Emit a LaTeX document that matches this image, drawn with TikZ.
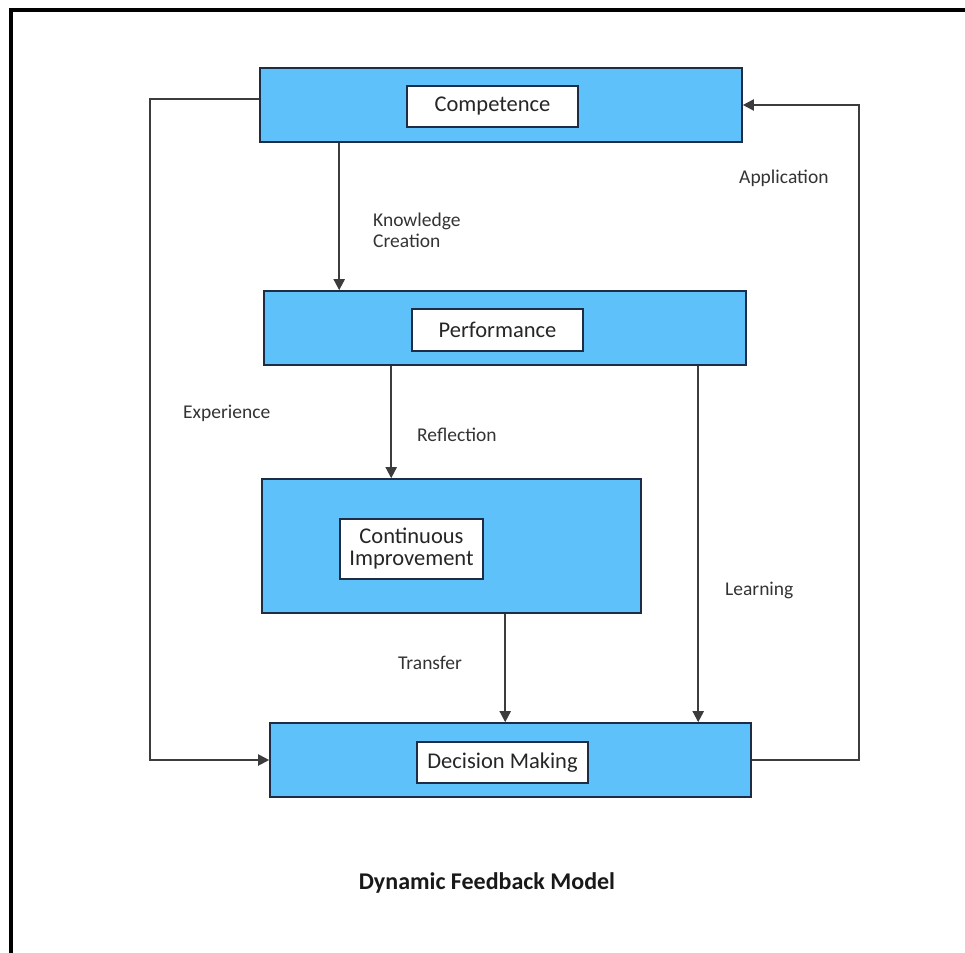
\documentclass[tikz,border=0pt]{standalone}
\usepackage{fontspec}
\setmainfont{Carlito}
\usepackage{xcolor}
\usepackage{tikz}
\usetikzlibrary{arrows.meta}

\definecolor{boxblue}{RGB}{94,193,250}
\definecolor{boxline}{RGB}{30,45,70}
\definecolor{wire}{RGB}{60,60,60}

\begin{document}
\begin{tikzpicture}[x=1pt,y=-1pt,
  stage/.style={shape=rectangle,draw=boxline,fill=boxblue,line width=1.6pt,inner sep=0pt},
  tag/.style={shape=rectangle,draw=boxline,fill=white,line width=1.4pt,inner sep=0pt,align=center,font=\fontsize{22.5}{26}\selectfont,text=black!85},
  flow/.style={draw=wire,line width=2pt,-{Triangle[length=11pt,width=11pt]}},
  note/.style={anchor=west,inner sep=0pt,align=left,font=\fontsize{19.5}{21}\selectfont,text=black!80}]
\useasboundingbox (0,0) rectangle (965,952);

\draw[line width=4pt,line cap=rect] (11,952) -- (11,10) -- (965,10);

\node[stage,minimum width=482pt,minimum height=74pt] (comp) at (501,105) {};
\node[tag,minimum width=171pt,minimum height=41pt] (compt) at (492.5,106.5) {Competence};

\node[stage,minimum width=482pt,minimum height=74pt] (perf) at (505,328) {};
\node[tag,minimum width=171pt,minimum height=42pt] (perft) at (497.5,330) {Performance};

\node[stage,minimum width=379pt,minimum height=134pt] (cont) at (451.5,546) {};
\node[tag,minimum width=143pt,minimum height=60pt] (contt) at (411.5,549) {Continuous\\[-4pt]Improvement};

\node[stage,minimum width=481pt,minimum height=74pt] (dec) at (510.5,760) {};
\node[tag,minimum width=171pt,minimum height=41pt] (dect) at (502.5,762.5) {Decision Making};

\draw[flow] ([xshift=80pt]comp.south west) -- ([xshift=80pt]comp.south west |- perf.north);
\draw[flow] ([xshift=128pt]perf.south west) -- ([xshift=128pt]perf.south west |- cont.north);
\draw[flow] ([xshift=244pt]cont.south west) -- ([xshift=244pt]cont.south west |- dec.north);
\draw[flow] ([xshift=435pt]perf.south west) -- ([xshift=435pt]perf.south west |- dec.north);
\draw[flow] ([yshift=6pt]comp.west) -| ([xshift=-119pt]dec.west) -- (dec.west);
\draw[flow] (dec.east) -| ([xshift=116pt]comp.east) -- (comp.east);

\node[note] (kc) at (373,230) {Knowledge\\Creation};
\node[note] (app) at (739,178) {Application};
\node[note] (exp) at (183,413) {Experience};
\node[note] (ref) at (417,435) {Reflection};
\node[note] (lrn) at (725,590) {Learning};
\node[note] (trf) at (398,663) {Transfer};

\node[font=\fontsize{24}{28}\selectfont\bfseries,text=black!90] (title) at (487,883) {Dynamic Feedback Model};

\end{tikzpicture}
\end{document}
